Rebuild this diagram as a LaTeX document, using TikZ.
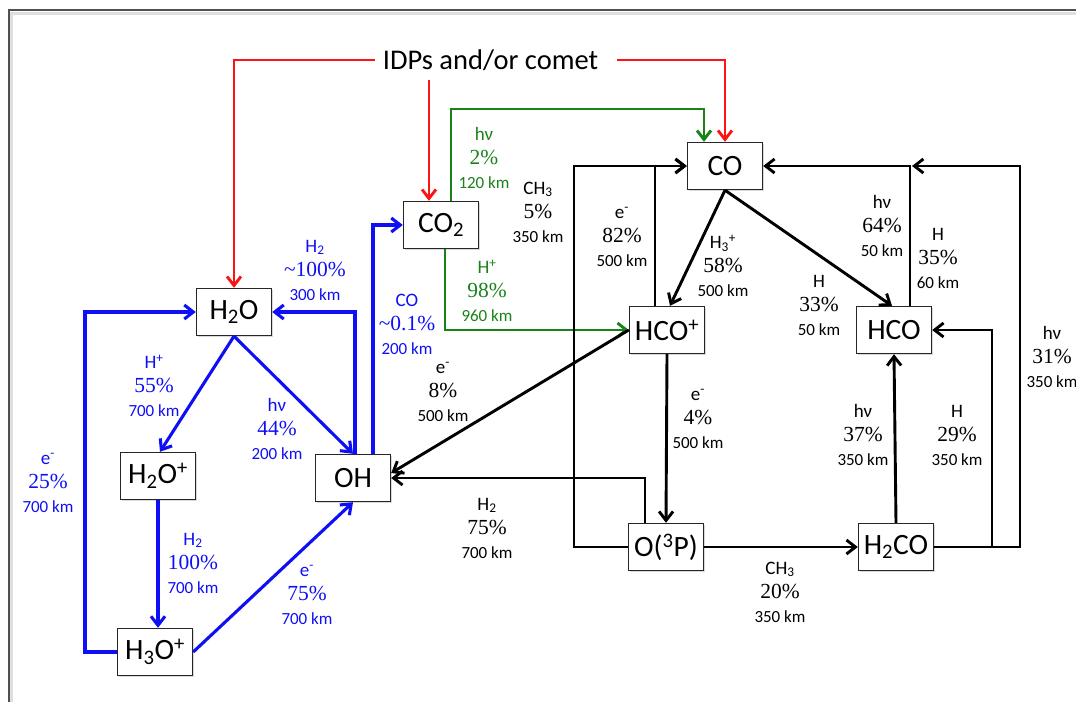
\documentclass[tikz,border=0pt]{standalone}
\usepackage{fontspec}
\setmainfont{Carlito}
\newfontfamily\pctf{Liberation Serif}
\usetikzlibrary{arrows.meta,shadows}
\definecolor{myred}{RGB}{250,20,20}
\definecolor{myblue}{RGB}{15,15,245}
\definecolor{mygreen}{RGB}{25,130,25}
\definecolor{framec}{RGB}{80,80,80}
\newcommand{\rlab}[3]{{\fontsize{19}{24}\selectfont #1}\\{\pctf\fontsize{21.5}{24}\selectfont #2}\\{\fontsize{17}{24}\selectfont #3}}
\newcommand{\hnu}{hν}
\begin{document}
\begin{tikzpicture}[x=1pt,y=-1pt,
  box/.style={draw=black!85, line width=1.4pt, fill=white, minimum width=75pt, minimum height=47pt,
    inner sep=0pt, font=\fontsize{29.5}{32}\selectfont,
    drop shadow={shadow xshift=1.5pt, shadow yshift=-1.5pt, opacity=0.3}},
  lab/.style={align=center, inner sep=0pt, font=\fontsize{19}{24}\selectfont},
  conn/.style={line width=2.9pt, -{Straight Barb[length=9pt,width=14pt]}},
  rconn/.style={conn, myred},
  gconn/.style={conn, mygreen},
  bconn/.style={conn, myblue, line width=3.1pt},
  kconn/.style={conn, black}
]
\useasboundingbox (0,0) rectangle (1076,702);
% frame
\draw[gray!25, line width=3pt] (11,702) -- (11,13) -- (1076,13);
\draw[framec, line width=2pt] (9,702) -- (9,10) -- (1076,10);

% nodes
\node[inner sep=0pt, font=\fontsize{28.5}{32}\selectfont] (idp) at (490.5,60) {IDPs and/or comet};
\node[box] (co2) at (441,225) {CO\textsubscript{2}};
\node[box] (co) at (725,166) {CO};
\node[box] (h2o) at (234,312) {H\textsubscript{2}O};
\node[box] (hcop) at (667,330) {HCO\textsuperscript{+}};
\node[box] (hco) at (894,330) {HCO};
\node[box] (h2op) at (158,476) {H\textsubscript{2}O\textsuperscript{+}};
\node[box] (oh) at (353,478) {OH};
\node[box] (o3p) at (666,547) {O(\textsuperscript{3}P)};
\node[box] (h2co) at (896,547) {H\textsubscript{2}CO};
\node[box] (h3op) at (155,652) {H\textsubscript{3}O\textsuperscript{+}};

% helper coordinates
\coordinate (rl) at (375,60);
\coordinate (rr) at (617,60);
\coordinate (r2s) at (429,80);
\coordinate (r2e) at ([xshift=-12pt]co2.north);
\coordinate (ga) at ([xshift=10pt]co2.north);
\coordinate (gtop) at (451,109);
\coordinate (gb) at ([xshift=-21pt]co.north);
\coordinate (lft) at (85,0);
\coordinate (lx) at (574,0);
\coordinate (rx) at (1020,0);
\coordinate (hx) at (992,0);
\coordinate (rtip) at (912,166);

% red
\draw[rconn] (rl) -| (h2o.north);
\draw[rconn] (rr) -| (co.north);
\draw[rconn] (r2s) -- (r2e);

% green
\draw[gconn] (ga) -- (gtop) -| (gb);
\draw[gconn] ([xshift=4pt]co2.south) |- (hcop.west);

% blue
\draw[bconn] ([xshift=20pt]oh.north) |- (co2.west);
\draw[bconn] ([xshift=2pt]oh.north) |- (h2o.east);
\draw[bconn] (h2o.south) -- ([xshift=2pt]h2op.north);
\draw[bconn] (h2o.south) -- (oh.north);
\draw[bconn] (h2op.south) -- (h2op.south |- h3op.north);
\draw[bconn] (h3op.east) -- (oh.south);
\draw[bconn] (h3op.west) -- (h3op.west -| lft) |- (h2o.west);

% black
\draw[kconn] (co.south) -- ([xshift=3pt]hcop.north);
\draw[kconn] (co.south) -- ([xshift=-2pt]hco.north);
\draw[kconn] ([xshift=-12pt]hcop.north) |- (co.west);
\draw[kconn] (o3p.west) -- (o3p.west -| lx) |- (co.west);
\draw[kconn] ([xshift=16pt]hco.north) |- (co.east);
\draw[kconn] (h2co.east) -- (h2co.east -| rx) |- (rtip);
\draw[kconn] (h2co.north) -- (hco.south);
\draw[kconn] (h2co.east) -- (h2co.east -| hx) |- (hco.east);
\draw[kconn] (o3p.east) -- (h2co.west);
\draw[kconn] ([xshift=-21pt]o3p.north) |- (oh.east);
\draw[kconn] (hcop.west) -- ([yshift=5pt]oh.east);
\draw[kconn] (hcop.south) -- (o3p.north);

% labels green
\node[lab, mygreen] (lg1) at (484,158) {\rlab{\hnu}{2\%}{120 km}};
\node[lab, mygreen] (lg2) at (487,291) {\rlab{H\textsuperscript{+}}{98\%}{960 km}};
% labels blue
\node[lab, myblue] (lb1) at (407,324) {\rlab{CO}{\textasciitilde0.1\%}{200 km}};
\node[lab, myblue] (lb2) at (315,270) {\rlab{H\textsubscript{2}}{\textasciitilde100\%}{300 km}};
\node[lab, myblue] (lb3) at (154,386) {\rlab{H\textsuperscript{+}}{55\%}{700 km}};
\node[lab, myblue] (lb4) at (277,429) {\rlab{\hnu}{44\%}{200 km}};
\node[lab, myblue] (lb5) at (193,563) {\rlab{H\textsubscript{2}}{100\%}{700 km}};
\node[lab, myblue] (lb6) at (307,595) {\rlab{e\textsuperscript{-}}{75\%}{700 km}};
\node[lab, myblue] (lb7) at (48,483) {\rlab{e\textsuperscript{-}}{25\%}{700 km}};
% labels black
\node[lab] (lk1) at (538,212) {\rlab{CH\textsubscript{3}}{5\%}{350 km}};
\node[lab] (lk2) at (622,237) {\rlab{e\textsuperscript{-}}{82\%}{500 km}};
\node[lab] (lk3) at (723,266) {\rlab{H\textsubscript{3}\textsuperscript{+}}{58\%}{500 km}};
\node[lab] (lk4) at (819,305) {\rlab{H}{33\%}{50 km}};
\node[lab] (lk5) at (882,226) {\rlab{\hnu}{64\%}{50 km}};
\node[lab] (lk6) at (938,258) {\rlab{H}{35\%}{60 km}};
\node[lab] (lk7) at (1052,357) {\rlab{\hnu}{31\%}{350 km}};
\node[lab] (lk8) at (863,435) {\rlab{\hnu}{37\%}{350 km}};
\node[lab] (lk9) at (957,435) {\rlab{H}{29\%}{350 km}};
\node[lab] (lk10) at (780,592) {\rlab{CH\textsubscript{3}}{20\%}{350 km}};
\node[lab] (lk11) at (487,528) {\rlab{H\textsubscript{2}}{75\%}{700 km}};
\node[lab] (lk12) at (443,392) {\rlab{e\textsuperscript{-}}{8\%}{500 km}};
\node[lab] (lk13) at (698,419) {\rlab{e\textsuperscript{-}}{4\%}{500 km}};
\end{tikzpicture}
\end{document}
